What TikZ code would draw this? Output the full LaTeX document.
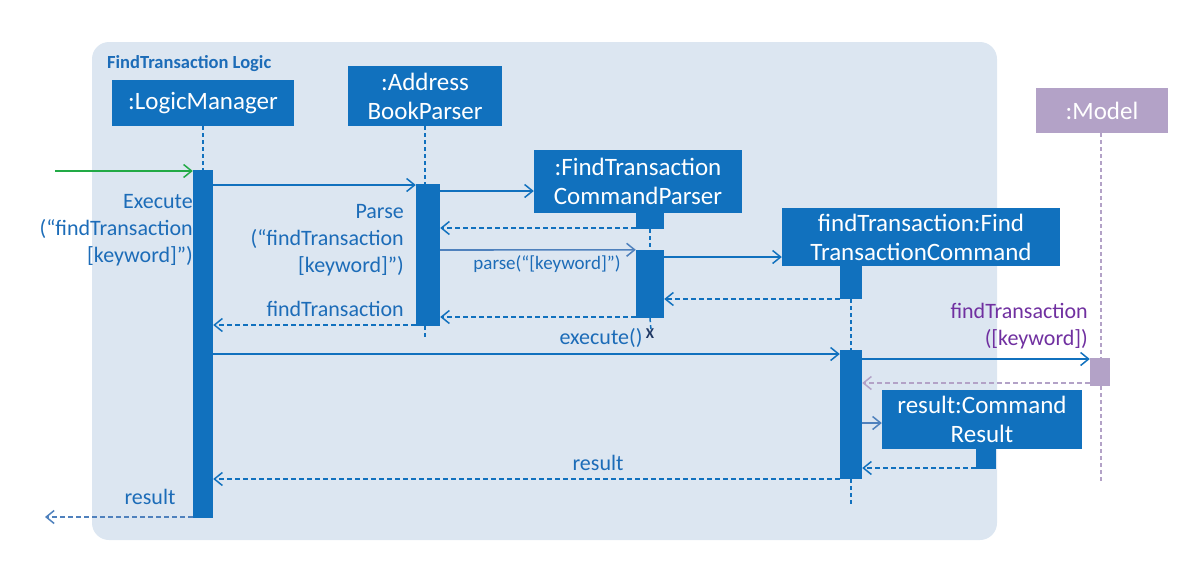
\documentclass[tikz,border=0pt]{standalone}
\usepackage{fontspec}
\setmainfont{Carlito}
\usetikzlibrary{arrows.meta}
\definecolor{mblue}{RGB}{17,113,190}
\definecolor{gblue}{RGB}{79,129,189}
\definecolor{tblue}{RGB}{28,108,184}
\definecolor{bgc}{RGB}{220,230,241}
\definecolor{lilac}{RGB}{179,162,199}
\definecolor{purp}{RGB}{112,48,160}
\definecolor{grn}{RGB}{34,170,70}
\definecolor{navy}{RGB}{31,56,100}
\begin{document}
\begin{tikzpicture}[x=1pt,y=-1pt,
  frame/.style={fill=bgc, rounded corners=17pt, inner sep=0pt, draw=none},
  obj/.style={fill=mblue, text=white, font=\fontsize{25}{29}\selectfont, align=center, inner sep=0pt},
  act/.style={fill=mblue, inner sep=0pt, draw=none},
  life/.style={mblue, line width=1.5pt, dash pattern=on 4pt off 3pt},
  msg/.style={mblue, line width=1.6pt, -{Straight Barb[length=8pt,width=13pt,line width=1.5pt]}},
  ret/.style={msg, dash pattern=on 5pt off 3pt},
  lbl/.style={text=tblue, font=\fontsize{22}{27}\selectfont, inner sep=0pt, align=right}]
\useasboundingbox (0,0) rectangle (1200,568);
\node[frame, minimum width=905pt, minimum height=498pt] (frm) at (544.5,291) {};
\node[anchor=west, text=tblue, font=\fontsize{18.5}{20}\selectfont\bfseries, inner sep=0pt] (title) at (107,64) {FindTransaction Logic};

% objects
\node[obj, minimum width=182pt, minimum height=46pt] (lm) at (203,103) {:LogicManager};
\node[obj, minimum width=154pt, minimum height=60pt] (ap) at (425,96) {:Address\\BookParser};
\node[obj, minimum width=208pt, minimum height=63pt] (cp) at (638,181.5) {:FindTransaction\\CommandParser};
\node[obj, minimum width=278pt, minimum height=58pt] (ft) at (921,237) {findTransaction:Find\\TransactionCommand};
\node[obj, fill=lilac, minimum width=132pt, minimum height=45pt] (md) at (1102,110.5) {:Model};
\node[obj, minimum width=200pt, minimum height=59pt] (cr) at (982,419.5) {result:Command\\Result};

% activations
\node[act, minimum width=20pt, minimum height=348pt] (lmA) at (203,344) {};
\node[act, minimum width=24pt, minimum height=142pt] (apA) at (428,255) {};
\node[act, minimum width=28pt, minimum height=16pt] (cpA1) at (650,221) {};
\node[act, minimum width=28pt, minimum height=68pt] (cpA2) at (650,284) {};
\node[act, minimum width=22pt, minimum height=33pt] (ftA1) at (851,282.5) {};
\node[act, minimum width=22pt, minimum height=129pt] (ftA2) at (851,414.5) {};
\node[act, fill=lilac, minimum width=20pt, minimum height=28pt] (mdA) at (1100,372) {};
\node[act, minimum width=20pt, minimum height=20pt] (crA) at (986,459) {};

% lifeline ends
\coordinate (apEnd) at (425,338);
\coordinate (cpEnd) at (651,330);
\coordinate (ftEnd) at (851,507);
\coordinate (mdEnd) at (1101,483);
\coordinate (inS) at (55,171);
\coordinate (outE) at (45,517);

% lifelines
\draw[life] (lm.south) -- (lmA.north);
\draw[life] (ap.south) -- (ap.south |- apA.north);
\draw[life] (ap.south |- apA.south) -- (apEnd);
\draw[life] (cpA1.south) -- (cpA2.north);
\draw[life] (cpA2.south) -- (cpEnd);
\draw[life] (ftA1.north |- ft.south) -- (ftA1.north);
\draw[life] (ftA1.south) -- (ftA2.north);
\draw[life] (ftA2.south) -- (ftEnd);
\draw[life, lilac] (md.south -| mdEnd) -- (mdEnd |- mdA.north);
\draw[life, lilac] (mdEnd |- mdA.south) -- (mdEnd);
\node[text=navy, font=\fontsize{15}{15}\selectfont\bfseries, inner sep=0pt] (xmark) at (650,334) {X};

% messages
\draw[msg, grn] (inS) -- (lmA.west |- inS);
\draw[msg] (lmA.east |- 0,185) -- (apA.west |- 0,185);
\draw[msg] (apA.east |- 0,191) -- (cp.west |- 0,191);
\draw[ret] (cpA1.west |- 0,228) -- (apA.east |- 0,228);
\draw[msg, gblue] (apA.east |- 0,250) -- (cpA2.north west);
\draw[msg] (cpA2.east |- 0,257) -- (ft.west |- 0,257);
\draw[ret] (ftA1.west |- 0,299) -- (cpA2.east |- 0,299);
\draw[ret] (cpA2.west |- 0,317) -- (apA.east |- 0,317);
\draw[ret] (apA.west |- 0,325) -- (lmA.east |- 0,325);
\draw[msg] (lmA.east |- 0,354) -- (ftA2.west |- 0,354);
\draw[msg] (ftA2.east |- 0,359) -- (mdA.west |- 0,359);
\draw[ret, lilac] (mdA.west |- 0,383) -- (ftA2.east |- 0,383);
\draw[msg, gblue] (ftA2.east |- 0,423) -- (cr.west |- 0,423);
\draw[ret] (crA.west |- 0,468) -- (ftA2.east |- 0,468);
\draw[ret] (ftA2.west |- 0,479) -- (lmA.east |- 0,479);
\draw[ret, gblue] (lmA.west |- outE) -- (outE);

% labels
\node[lbl, anchor=north east] (l1) at (193,194) {Execute\\(“findTransaction\\{[}keyword{]}”)};
\node[lbl, anchor=north east] (l2) at (404,204) {Parse\\(“findTransaction\\{[}keyword{]}”)};
\node[lbl, font=\fontsize{19}{20}\selectfont] (l3) at (547,264) {parse(“{[}keyword{]}”)};
\node[lbl, anchor=east] (l4) at (404,309) {findTransaction};
\node[lbl] (l5) at (601,338) {execute()};
\node[lbl, text=purp, anchor=north east] (l6) at (1088,303) {findTransaction\\({[}keyword{]})};
\node[lbl] (l7) at (598,463) {result};
\node[lbl] (l8) at (150,497) {result};
\end{tikzpicture}
\end{document}
